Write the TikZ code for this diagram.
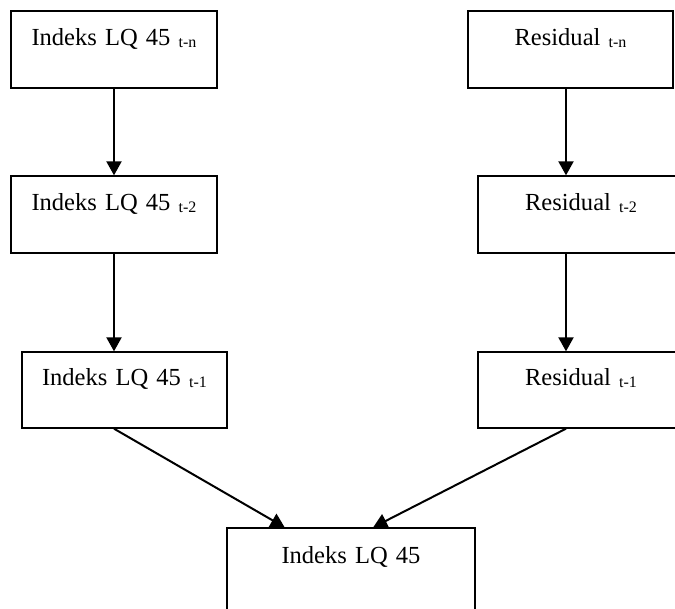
\documentclass[tikz,border=0pt]{standalone}
\usepackage{fontspec}
\setmainfont{Liberation Serif}
\usetikzlibrary{arrows.meta, calc}
\newcommand{\bawah}[1]{\raisebox{-2.2pt}{\fontsize{12}{12}\selectfont #1}}
\tikzset{
x=0.75pt, y=-0.75pt, % one unit is one pixel of the reference
>={Triangle[length=10.5pt, width=11.25pt]}, % filled arrow heads
kotak/.style={draw, line width=1pt, inner sep=0pt, align=center,
  font=\fontsize{18.4}{20}\selectfont}, % the boxes
panah/.style={->, line width=1.5pt}, % the connectors
}
\begin{document}
\begin{tikzpicture}
    \useasboundingbox (0,0) rectangle (675,608);
    \clip (0,0) rectangle (675,608);
    \node[kotak, text width=154.5pt, text height=25.5pt, text depth=32.25pt] (ltn) at (114,49.5) {Indeks LQ 45 \bawah{t-n}};
    \node[kotak, text width=154.5pt, text height=25.5pt, text depth=32.25pt] (lt2) at (114,214.5) {Indeks LQ 45 \bawah{t-2}};
    \node[kotak, text width=153.75pt, text height=24.75pt, text depth=32.25pt] (lt1) at (124.5,390) {Indeks LQ 45 \bawah{t-1}};
    \node[kotak, text width=153.75pt, text height=25.5pt, text depth=32.25pt] (rtn) at (570.5,49.5) {Residual \bawah{t-n}};
    \node[kotak, text width=154.5pt, text height=25.5pt, text depth=32.25pt] (rt2) at (581,214.5) {Residual \bawah{t-2}};
    \node[kotak, text width=154.5pt, text height=24.75pt, text depth=32.25pt] (rt1) at (581,390) {Residual \bawah{t-1}};
    \node[kotak, text width=186pt, text height=26.25pt, text depth=42.75pt] (hasil) at (351,574) {Indeks LQ 45};
    \coordinate (kiri) at (114,0);
    \coordinate (kanan) at (566,0);
    \draw[panah] (ltn.south -| kiri) -- (lt2.north -| kiri);
    \draw[panah] (lt2.south -| kiri) -- (lt1.north -| kiri);
    \draw[panah] (rtn.south -| kanan) -- (rt2.north -| kanan);
    \draw[panah] (rt2.south -| kanan) -- (rt1.north -| kanan);
    \draw[panah] (lt1.south -| kiri) -- ($(hasil.north west)!0.234!(hasil.north east)$);
    \draw[panah] (rt1.south -| kanan) -- ($(hasil.north west)!0.589!(hasil.north east)$);
\end{tikzpicture}
\end{document}
